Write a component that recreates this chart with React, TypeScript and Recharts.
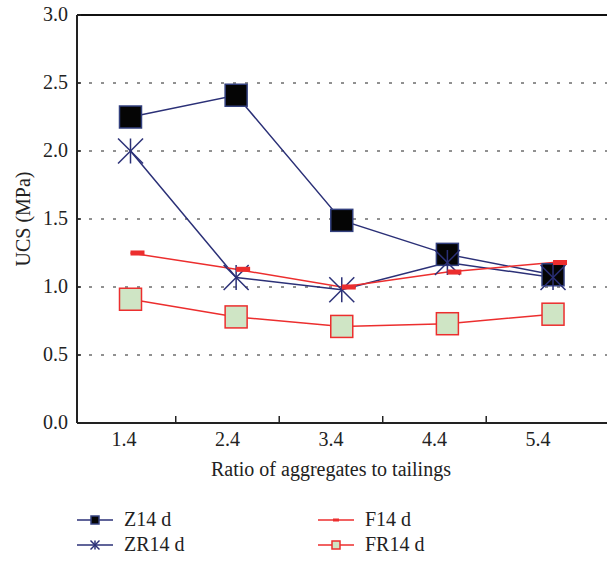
import React from 'react';
import { LineChart, Line, XAxis, YAxis, CartesianGrid, ReferenceLine, Legend } from 'recharts';

const ratios = [1.4, 2.4, 3.4, 4.4, 5.4];
const z14 = [2.25, 2.41, 1.49, 1.24, 1.09];
const zr14 = [2.0, 1.07, 0.98, 1.18, 1.07];
const f14 = [1.25, 1.13, 1.0, 1.11, 1.18];
const fr14 = [0.91, 0.78, 0.71, 0.73, 0.8];
const yTicks = [0, 0.5, 1, 1.5, 2, 2.5, 3];
const xLabelTicks = [1.4, 2.4, 3.4, 4.4, 5.4];
const xMinorTicks = [1.9, 2.9, 3.9, 4.9];

const NAVY = '#2b3077';
const RED = '#ec2e2e';
const GREEN_FILL = '#cfe5c5';
const FONT = 'Liberation Serif';
const FS = 20;

const series = [
  { key: 'z14', name: 'Z14 d', color: NAVY, marker: 'filled', col: 0, row: 0 },
  { key: 'zr14', name: 'ZR14 d', color: NAVY, marker: 'star', col: 0, row: 1 },
  { key: 'f14', name: 'F14 d', color: RED, marker: 'dash', col: 1, row: 0 },
  { key: 'fr14', name: 'FR14 d', color: RED, marker: 'open', col: 1, row: 1 },
];

function Marker({ type, cx, cy, s }: { type: string; cx: number; cy: number; s: number }) {
  if (type === 'filled') {
    return <rect x={cx - s / 2} y={cy - s / 2} width={s} height={s} fill="#050505" stroke="#33407e" strokeWidth={1.5} />;
  }
  if (type === 'open') {
    return <rect x={cx - s / 2} y={cy - s / 2} width={s} height={s} fill={GREEN_FILL} stroke={RED} strokeWidth={1.5} />;
  }
  if (type === 'star') {
    const h = s / 2;
    return (
      <g stroke={NAVY} strokeWidth={1.5}>
        <line x1={cx} y1={cy - h} x2={cx} y2={cy + h} />
        <line x1={cx - h} y1={cy - h} x2={cx + h} y2={cy + h} />
        <line x1={cx - h} y1={cy + h} x2={cx + h} y2={cy - h} />
      </g>
    );
  }
  return <rect x={cx} y={cy - s * 0.18} width={s} height={s * 0.36} fill={RED} />;
}

const makeDot = (type: string, s: number) => (p: any) => {
  if (p.cx == null || p.cy == null) return <g key={`${type}-${p.index}`} />;
  return (
    <g key={`${type}-${p.index}`}>
      <Marker type={type} cx={p.cx} cy={p.cy} s={s} />
    </g>
  );
};

const dotSizes: Record<string, number> = { filled: 22, open: 22, star: 25, dash: 14 };
const legendSizes: Record<string, number> = { filled: 8, open: 8, star: 9, dash: 5 };

const textStyle = { fontFamily: FONT, fontSize: FS, fill: '#222' } as const;

function XTick(props: any) {
  const { x, y, payload } = props;
  const v = payload.value;
  if (xLabelTicks.some((t) => Math.abs(t - v) < 1e-6)) {
    return (
      <text x={x} y={y + 23} textAnchor="middle" style={textStyle}>
        {v.toFixed(1)}
      </text>
    );
  }
  return <line x1={x} x2={x} y1={y} y2={y - 7} stroke="#222" strokeWidth={1.5} />;
}

function YTick(props: any) {
  const { x, y, payload } = props;
  return (
    <g>
      <text x={x} y={y} dy={6} textAnchor="end" style={textStyle}>
        {Number(payload.value).toFixed(1)}
      </text>
      <line x1={x + 9} x2={x + 13} y1={y} y2={y} stroke="#222" strokeWidth={1.5} />
    </g>
  );
}

function YLabel(props: any) {
  const vb = props.viewBox || { x: 0, y: 15, width: 77, height: 408 };
  const cx = vb.x + 30;
  const cy = vb.y + vb.height / 2;
  return (
    <text x={cx} y={cy} textAnchor="middle" transform={`rotate(-90, ${cx}, ${cy})`} style={textStyle}>
      UCS (MPa)
    </text>
  );
}

function XLabel(props: any) {
  const vb = props.viewBox || { x: 77, y: 423, width: 530, height: 60 };
  const cx = vb.x + vb.width / 2 - 11;
  const cy = vb.y + 53;
  return (
    <text x={cx} y={cy} textAnchor="middle" style={textStyle}>
      Ratio of aggregates to tailings
    </text>
  );
}

function LegendContent() {
  const colX = [77, 318];
  const rowY = [15, 40];
  return (
    <svg width={607} height={56} style={{ display: 'block' }}>
      {series.map((s) => {
        const x0 = colX[s.col];
        const y0 = rowY[s.row];
        const cx = x0 + 18;
        const sz = legendSizes[s.marker];
        return (
          <g key={s.key}>
            <line x1={x0} x2={x0 + 36} y1={y0} y2={y0} stroke={s.color} strokeWidth={1.5} />
            {s.marker === 'dash' ? (
              <rect x={cx - 3} y={y0 - 1.5} width={6} height={3} fill={RED} />
            ) : (
              <Marker type={s.marker} cx={cx} cy={y0} s={sz} />
            )}
            <text x={x0 + 47} y={y0} dy={6} style={textStyle}>
              {s.name}
            </text>
          </g>
        );
      })}
    </svg>
  );
}

export default function App() {
  const data = ratios.map((r, i) => ({ ratio: r, z14: z14[i], zr14: zr14[i], f14: f14[i], fr14: fr14[i] }));
  return (
    <div style={{ position: 'absolute', left: 0, top: 0, width: 607, height: 561, background: '#fff' }}>
      <LineChart width={607} height={561} data={data} margin={{ top: 15, right: 0, bottom: 78, left: 0 }}>
        <CartesianGrid xAxisId="data" yAxisId="y" horizontal vertical={false} stroke="#222" strokeDasharray="3 9" />
        <XAxis
          xAxisId="lab"
          dataKey="ratio"
          type="number"
          domain={[0.946, 6.067]}
          allowDataOverflow
          ticks={[...xLabelTicks, ...xMinorTicks].sort((a, b) => a - b)}
          interval={0}
          height={60}
          tickSize={0}
          tickMargin={0}
          tickLine={false}
          axisLine={{ stroke: '#222', strokeWidth: 2 }}
          tick={<XTick />}
          label={{ content: XLabel }}
        />
        <XAxis xAxisId="data" dataKey="ratio" type="number" domain={[0.8935, 5.911]} allowDataOverflow hide height={0} />
        <YAxis
          yAxisId="y"
          type="number"
          domain={[0, 3]}
          ticks={yTicks}
          interval={0}
          width={77}
          tickSize={0}
          tickMargin={9}
          tickLine={false}
          axisLine={{ stroke: '#222', strokeWidth: 2 }}
          tick={<YTick />}
          label={{ content: YLabel }}
        />
        <ReferenceLine xAxisId="data" yAxisId="y" y={3} stroke="#111" strokeWidth={2} />
        {series.map((s) => (
          <Line
            key={s.key}
            xAxisId="data"
            yAxisId="y"
            dataKey={s.key}
            name={s.name}
            stroke={s.color}
            strokeWidth={1.5}
            dot={makeDot(s.marker, dotSizes[s.marker])}
            activeDot={false}
            isAnimationActive={false}
          />
        ))}
        <Legend
          layout="horizontal"
          verticalAlign="middle"
          align="center"
          wrapperStyle={{ top: 505, left: 0, width: 607, height: 56 }}
          content={() => <LegendContent />}
        />
      </LineChart>
    </div>
  );
}
